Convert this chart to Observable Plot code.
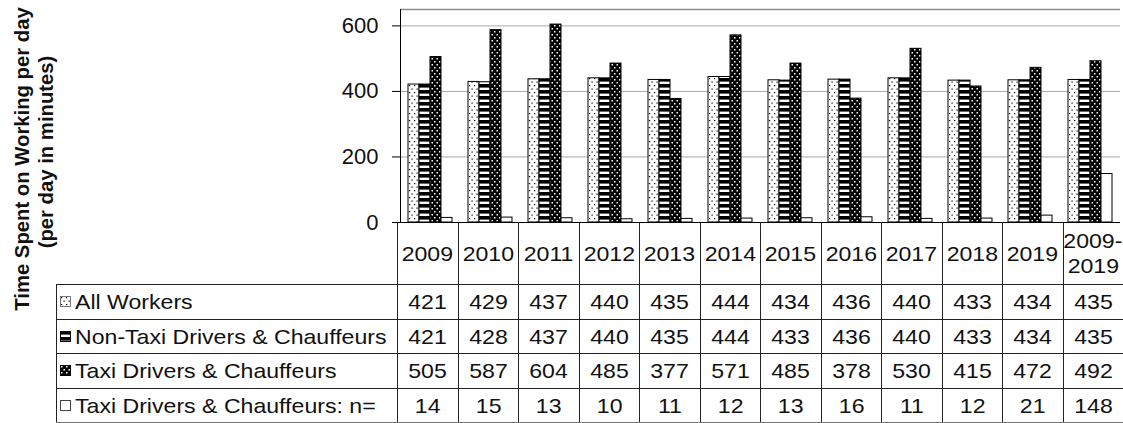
<!DOCTYPE html>
<html>
<head>
<meta charset="utf-8">
<script src="https://cdn.jsdelivr.net/npm/d3@7"></script>
<script src="https://cdn.jsdelivr.net/npm/@observablehq/plot@0.6"></script>
<style>
  html, body { margin: 0; padding: 0; background: #fff; }
  body { font-family: "Liberation Sans", Arial, sans-serif; }
  #wrap { position: relative; width: 1123px; height: 423px; overflow: hidden; background: #fff; }
  #chart { position: absolute; left: 0; top: 0; }
  #ytitle { position: absolute; left: 0; top: 0; }
  #tbl {
    position: absolute; left: 56px; top: 222px;
    border-collapse: collapse; table-layout: fixed; width: 1067px;
    font-size: 21px; color: #111;
  }
  #tbl td { border: 1px solid #222; padding: 0; text-align: center; vertical-align: middle; line-height: 25px; white-space: normal; }
  #tbl tr.head td { border-top: none; height: 62px; }
  #tbl tr.head td.blank { border-left: none; border-top: none; }
  #tbl tr.row td { height: 33.5px; }
  #tbl tr.row:last-child td { border-bottom: 2px solid #777; }
  #tbl td.lab { text-align: left; padding-left: 3px; white-space: nowrap; }
  #tbl td.lab svg { vertical-align: middle; margin-right: 4px; position: relative; top: -2px; }
  #tbl span.s { display: inline-block; transform: scaleX(1.1); transform-origin: 50% 50%; }
  #tbl td.lab span.s { transform-origin: 0 50%; }
</style>
</head>
<body>
<svg width="0" height="0" style="position:absolute">
  <defs>
    <pattern id="patLightDots" width="5" height="7" patternUnits="userSpaceOnUse">
      <rect width="5" height="7" fill="#fff"/>
      <rect x="1" y="1" width="1.2" height="1.2" fill="#000"/>
      <rect x="3.5" y="4.5" width="1.2" height="1.2" fill="#000"/>
    </pattern>
    <pattern id="patStripes" width="6" height="6" patternUnits="userSpaceOnUse">
      <rect width="6" height="6" fill="#000"/>
      <rect x="0" y="3.6" width="6" height="2.4" fill="#fff"/>
    </pattern>
    <pattern id="patDarkDots" width="5" height="6" patternUnits="userSpaceOnUse">
      <rect width="5" height="6" fill="#000"/>
      <rect x="1" y="1" width="1.5" height="1.5" fill="#fff"/>
      <rect x="3.5" y="4" width="1.5" height="1.5" fill="#fff"/>
    </pattern>
  </defs>
</svg>
<div id="wrap">
  <div id="chart"></div>
  <svg id="ytitle" width="70" height="330">
    <text transform="translate(22,159) rotate(-90)" text-anchor="middle" dominant-baseline="central"
      font-family="Liberation Sans, Arial, sans-serif" font-weight="bold" font-size="20.3" fill="#111">Time Spent on Working per day</text>
    <text transform="translate(46,152) rotate(-90)" text-anchor="middle" dominant-baseline="central"
      font-family="Liberation Sans, Arial, sans-serif" font-weight="bold" font-size="20.3" fill="#111">(per day in minutes)</text>
  </svg>
  <table id="tbl"></table>
</div>
<script>
// ---- data ----
const years = ["2009","2010","2011","2012","2013","2014","2015","2016","2017","2018","2019","2009-2019"];
const seriesNames = [
  "All Workers",
  "Non-Taxi Drivers & Chauffeurs",
  "Taxi Drivers & Chauffeurs",
  "Taxi Drivers & Chauffeurs: n="
];
const allWorkers = [421, 429, 437, 440, 435, 444, 434, 436, 440, 433, 434, 435];
const nonTaxi    = [421, 428, 437, 440, 435, 444, 433, 436, 440, 433, 434, 435];
const taxi       = [505, 587, 604, 485, 377, 571, 485, 378, 530, 415, 472, 492];
const taxiN      = [14, 15, 13, 10, 11, 12, 13, 16, 11, 12, 21, 148];
const yTicks = [0, 200, 400, 600];
const yMax = 650;

// ---- styles ----
const seriesValues = [allWorkers, nonTaxi, taxi, taxiN];
const seriesFill = {
  "All Workers": "url(#patLightDots)",
  "Non-Taxi Drivers & Chauffeurs": "url(#patStripes)",
  "Taxi Drivers & Chauffeurs": "url(#patDarkDots)",
  "Taxi Drivers & Chauffeurs: n=": "#ffffff"
};
const iconStroke = {
  "All Workers": "#777",
  "Non-Taxi Drivers & Chauffeurs": "#000",
  "Taxi Drivers & Chauffeurs": "#000",
  "Taxi Drivers & Chauffeurs: n=": "#444"
};

const rows = years.flatMap((yr, i) =>
  seriesNames.map((s, j) => ({year: yr, series: s, value: seriesValues[j][i]}))
);

const chart = Plot.plot({
  width: 1123,
  height: 223,
  marginLeft: 397,
  marginRight: 0,
  marginTop: 9,
  marginBottom: 1,
  style: {fontFamily: "Liberation Sans, Arial, sans-serif", fontSize: "22px", color: "#111", background: "transparent", overflow: "visible"},
  fx: {domain: years, padding: 0, axis: null, label: null},
  x: {domain: seriesNames, paddingInner: 0, paddingOuter: 0.59, axis: null},
  y: {domain: [0, yMax], axis: null},
  color: {type: "identity"},
  marks: [
    Plot.ruleY(yTicks.filter(d => d > 0), {stroke: "#a8a8a8", strokeWidth: 1}),
    Plot.ruleY([yMax], {stroke: "#8a8a8a", strokeWidth: 1.5}),
    Plot.barY(rows, {fx: "year", x: "series", y: "value", fill: d => seriesFill[d.series], stroke: "#000", strokeWidth: 1}),
    Plot.ruleY([0], {stroke: "#000", strokeWidth: 1}),
    Plot.frame({anchor: "left", facetAnchor: "left", stroke: "#000"}),
    Plot.axisY({ticks: yTicks, tickSize: 8, tickPadding: 14, label: null, tickFormat: d => String(d), stroke: "#000", fill: "#111", fontSize: 22})
  ]
});
document.getElementById("chart").appendChild(chart);

// ---- data table ----
const tbl = d3.select("#tbl");
const cg = tbl.append("colgroup");
cg.append("col").style("width", "341px");
years.forEach(() => cg.append("col").style("width", "60.5px"));
const head = tbl.append("tr").attr("class", "head");
head.append("td").attr("class", "blank");
years.forEach(y => {
  const td = head.append("td");
  const parts = y.split("-");
  if (parts.length > 1) {
    td.append("span").attr("class", "s").text(parts[0] + "-");
    td.append("br");
    td.append("span").attr("class", "s").text(parts[1]);
  } else {
    td.append("span").attr("class", "s").text(y);
  }
});
seriesNames.forEach((s, j) => {
  const tr = tbl.append("tr").attr("class", "row");
  const lab = tr.append("td").attr("class", "lab");
  const ic = lab.append("svg").attr("width", 11).attr("height", 11);
  ic.append("rect").attr("x", 0.5).attr("y", 0.5).attr("width", 10).attr("height", 10)
    .attr("fill", seriesFill[s]).attr("stroke", iconStroke[s]).attr("stroke-width", 1);
  lab.append("span").attr("class", "s").text(s);
  seriesValues[j].forEach(v => tr.append("td").append("span").attr("class", "s").text(v));
});
</script>
</body>
</html>
